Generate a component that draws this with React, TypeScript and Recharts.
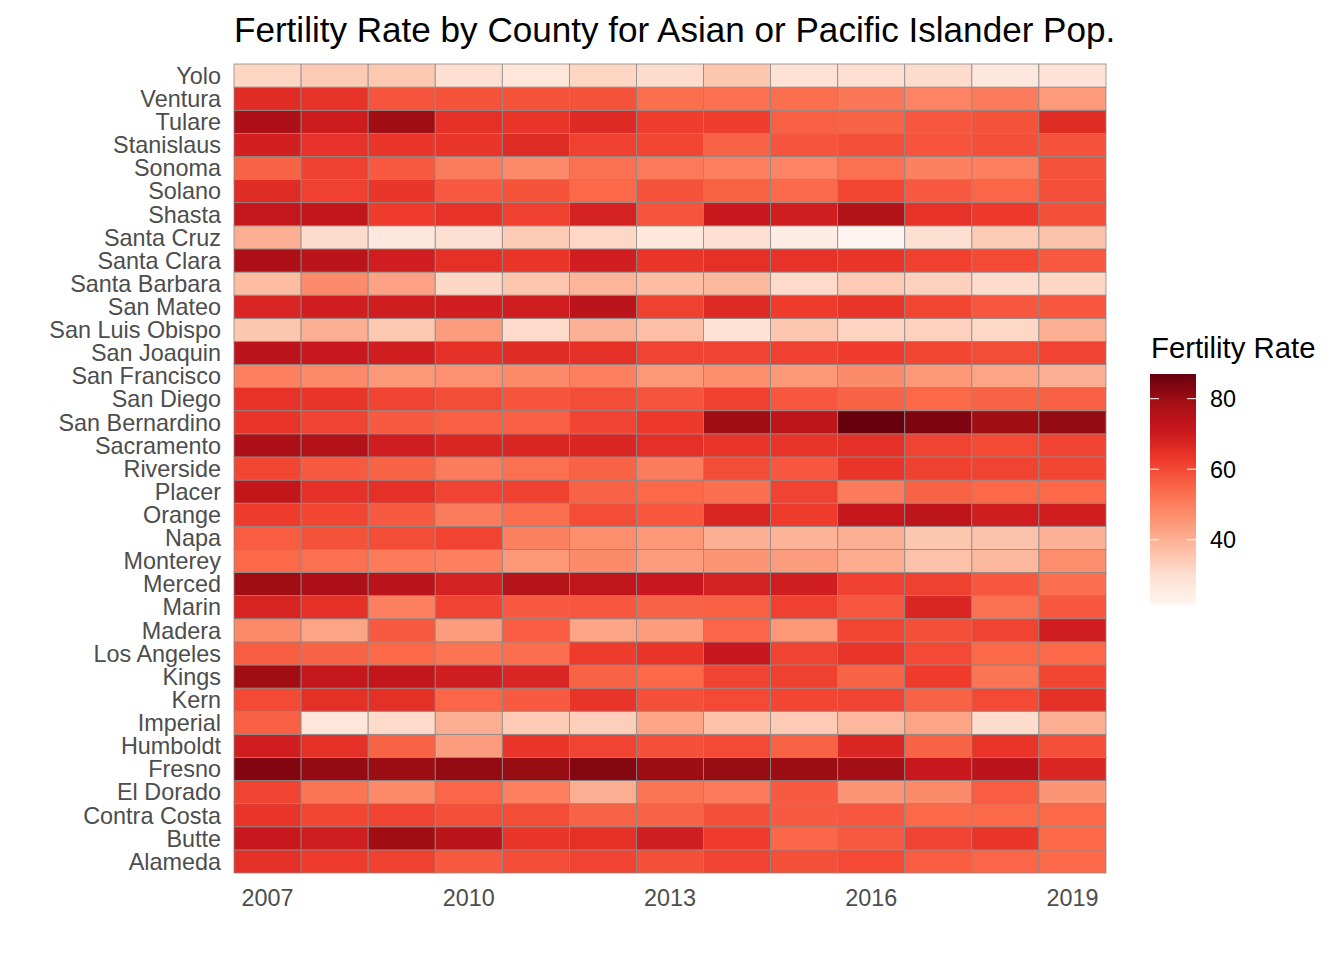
import { ScatterChart, Scatter, XAxis, YAxis } from "recharts";

const years = [2007, 2008, 2009, 2010, 2011, 2012, 2013, 2014, 2015, 2016, 2017, 2018, 2019];
const yearTicks = [2007, 2010, 2013, 2016, 2019];

// bottom to top
const counties = [
  "Alameda", "Butte", "Contra Costa", "El Dorado", "Fresno", "Humboldt", "Imperial",
  "Kern", "Kings", "Los Angeles", "Madera", "Marin", "Merced", "Monterey", "Napa",
  "Orange", "Placer", "Riverside", "Sacramento", "San Bernardino", "San Diego",
  "San Francisco", "San Joaquin", "San Luis Obispo", "San Mateo", "Santa Barbara",
  "Santa Clara", "Santa Cruz", "Shasta", "Solano", "Sonoma", "Stanislaus", "Tulare",
  "Ventura", "Yolo",
];

// one row per county, same order as counties, 2007..2019
const rates: number[][] = [
  [65, 62.5, 61.5, 57, 59.5, 61, 59, 61, 59, 60, 56.5, 55, 54.5],
  [71, 69.5, 79.5, 74, 63.5, 65, 69.5, 62.5, 55, 57, 61, 64, 54.5],
  [64, 60.5, 61, 59, 59.5, 55.5, 55.5, 59, 57, 57.5, 54.5, 54.5, 54.5],
  [61, 52, 48, 55, 50, 40.5, 52, 51, 57, 45.5, 47.5, 56.5, 45.5],
  [83.5, 81, 80, 81, 80.5, 83, 80, 80.5, 80, 79, 71, 74, 67],
  [69.5, 65, 55.5, 44, 63.5, 61, 59, 60, 55.5, 67, 55.5, 64, 59],
  [56, 27.5, 31, 40.5, 34.5, 33.5, 42.5, 36.5, 34.5, 38.5, 42.5, 30.5, 40.5],
  [60, 65, 65, 55, 57, 64, 59, 60, 60.5, 61, 55.5, 60, 65],
  [79.5, 72, 72.5, 69.5, 67.5, 55.5, 54.5, 61, 61.5, 55.5, 62.5, 52, 60.5],
  [56.5, 55.5, 54.5, 52, 53.5, 62.5, 64, 71.5, 61, 64, 60, 54.5, 54.5],
  [48, 42.5, 57, 44, 56.5, 42.5, 44, 55, 45, 60.5, 59, 61, 69.5],
  [68, 65, 50, 61, 57, 57.5, 55.5, 56, 61.5, 57.5, 67, 53, 57.5],
  [79.5, 77, 74, 68.5, 75.5, 73, 71, 68.5, 69.5, 61.5, 61.5, 57.5, 53.5],
  [54.5, 53, 51, 50, 45, 47.5, 44, 45.5, 44, 41, 36.5, 38.5, 47],
  [56.5, 58.5, 59.5, 61, 49.5, 47, 45, 40.5, 39.5, 40.5, 35.5, 36, 40],
  [62.5, 60.5, 57, 50.5, 53.5, 59.5, 57.5, 67, 62.5, 72, 73.5, 69.5, 69.5],
  [72.5, 65, 65, 61, 61.5, 55.5, 54.5, 53.5, 61, 50.5, 55.5, 54.5, 54.5],
  [60.5, 57, 55.5, 50.5, 53, 55.5, 50.5, 59.5, 57.5, 64, 61.5, 61, 60.5],
  [77, 76, 69.5, 67, 67, 67, 65, 64, 64, 65, 61, 60, 61],
  [64, 61, 57, 56, 56, 61, 63, 79.5, 73.5, 87, 84, 79.5, 81],
  [64.5, 64, 61, 59.5, 58, 59.5, 58, 61.5, 57.5, 55.5, 54.5, 55.5, 56],
  [50, 48, 45, 46.5, 47.5, 50, 45, 47, 45, 47.5, 45, 42.5, 40.5],
  [74, 71, 69.5, 65, 66, 65, 61, 61, 61.5, 62.5, 60.5, 59.5, 61],
  [35.5, 40.5, 35, 44, 31, 40, 37, 29, 35.5, 32.5, 33, 31.5, 40.5],
  [67.5, 69.5, 69.5, 69.5, 69.5, 74, 61.5, 66.5, 62.5, 64, 60.5, 57.5, 57.5],
  [37.5, 47.5, 43, 31.5, 35.5, 39, 37.5, 38.5, 31, 34.5, 33, 30.5, 32],
  [77, 74, 69.5, 65, 63.5, 69.5, 64, 65, 64.5, 63.5, 61.5, 60, 57],
  [40.5, 30.5, 27, 29.5, 34.5, 31.5, 27, 29.5, 24.5, 21.5, 29.5, 34.5, 36],
  [72, 72.5, 62.5, 64.5, 61.5, 68.5, 58, 71, 69.5, 76.5, 64.5, 63, 59],
  [66, 61.5, 63.5, 57, 58.5, 54.5, 58.5, 55.5, 54, 60.5, 57, 55, 59],
  [55.5, 61.5, 57, 50.5, 48, 53, 51, 50, 49, 53, 49.5, 50, 58.5],
  [69, 64.5, 63.5, 63.5, 66, 61.5, 60.5, 55.5, 58, 59, 58, 59, 58.5],
  [77, 70, 79.5, 65, 64, 66.5, 62, 62, 56, 55.5, 57.5, 58.5, 66],
  [66, 64.5, 58, 58.5, 58.5, 58.5, 53.5, 53, 53.5, 51.5, 49, 50.5, 44.5],
  [32, 34.5, 35, 29.5, 27.5, 32, 30.5, 35.5, 29, 29.5, 30.5, 27, 28.5],
];

const legendTicks = [40, 60, 80];

const REDS = ["#fff5f0", "#fee0d2", "#fcbba1", "#fc9272", "#fb6a4a", "#ef3b2c", "#cb181d", "#a50f15", "#67000d"];

const W = 1344;
const H = 960;
const PLOT = { left: 234, right: 1106, top: 64, bottom: 873 };
const cellW = (PLOT.right - PLOT.left) / years.length;
const cellH = (PLOT.bottom - PLOT.top) / counties.length;

const all = rates.flat();
const vMin = Math.min(...all);
const vMax = Math.max(...all);

function hex(c: string) {
  return [1, 3, 5].map((i) => parseInt(c.slice(i, i + 2), 16));
}

function fillFor(v: number) {
  const t = Math.max(0, Math.min(1, (v - vMin) / (vMax - vMin))) * (REDS.length - 1);
  const i = Math.min(REDS.length - 2, Math.floor(t));
  const f = t - i;
  const a = hex(REDS[i]);
  const b = hex(REDS[i + 1]);
  const rgb = a.map((x, k) => Math.round(x + (b[k] - x) * f));
  return `rgb(${rgb.join(",")})`;
}

const cells = counties.flatMap((c, ci) =>
  years.map((y, yi) => ({ year: y, row: ci + 1, county: c, value: rates[ci][yi] }))
);

const FONT = '"Liberation Sans", Arial, Helvetica, sans-serif';

function Tile(props: any) {
  const { cx, cy, payload } = props;
  if (cx == null || cy == null) return null;
  return (
    <rect
      x={cx - cellW / 2}
      y={cy - cellH / 2}
      width={cellW}
      height={cellH}
      fill={fillFor(payload.value)}
      stroke="#8a8a8a"
      strokeWidth={0.8}
    />
  );
}

function ColorBar() {
  const top = 374;
  const bottom = 605;
  const x = 1150;
  const w = 46;
  const yOf = (v: number) => top + ((vMax - v) / (vMax - vMin)) * (bottom - top);
  return (
    <svg width={W} height={H} style={{ position: "absolute", left: 0, top: 0, pointerEvents: "none" }}>
      <defs>
        <linearGradient id="reds" x1="0" y1="1" x2="0" y2="0">
          {REDS.map((c, i) => (
            <stop key={c} offset={i / (REDS.length - 1)} stopColor={c} />
          ))}
        </linearGradient>
      </defs>
      <text x={1151} y={358} fontSize={29.3} fill="#000" fontFamily={FONT}>
        Fertility Rate
      </text>
      <rect x={x} y={top} width={w} height={bottom - top} fill="url(#reds)" />
      {legendTicks.map((v) => (
        <g key={v}>
          <line x1={x} x2={x + 9} y1={yOf(v)} y2={yOf(v)} stroke="#fff" strokeWidth={1} />
          <line x1={x + w - 9} x2={x + w} y1={yOf(v)} y2={yOf(v)} stroke="#fff" strokeWidth={1} />
          <text x={1210} y={yOf(v) + 8.4} fontSize={23.4} fill="#000" fontFamily={FONT}>
            {v}
          </text>
        </g>
      ))}
    </svg>
  );
}

export default function App() {
  return (
    <div
      style={{
        position: "absolute",
        left: 0,
        top: 0,
        width: W,
        height: H,
        background: "#fff",
        fontFamily: FONT,
      }}
    >
      <div
        style={{
          position: "absolute",
          left: PLOT.left,
          top: 10,
          fontSize: 35.1,
          color: "#000",
          whiteSpace: "nowrap",
          lineHeight: "40px",
        }}
      >
        Fertility Rate by County for Asian or Pacific Islander Pop.
      </div>
      <div style={{ position: "absolute", left: 0, top: 0 }}>
        <ScatterChart
          width={W}
          height={H}
          margin={{ top: PLOT.top, right: W - PLOT.right, bottom: H - PLOT.bottom - 40, left: 0 }}
        >
          <XAxis
            type="number"
            dataKey="year"
            domain={[years[0] - 0.5, years[years.length - 1] + 0.5]}
            ticks={yearTicks}
            height={40}
            axisLine={false}
            tickLine={false}
            tickSize={0}
            tickMargin={16}
            tick={{ fontSize: 23.4, fill: "#4d4d4d", fontFamily: FONT }}
          />
          <YAxis
            type="number"
            dataKey="row"
            domain={[0.5, counties.length + 0.5]}
            ticks={counties.map((_, i) => i + 1)}
            tickFormatter={(v: number) => counties[v - 1] ?? ""}
            interval={0}
            width={PLOT.left}
            axisLine={false}
            tickLine={false}
            tickSize={0}
            tickMargin={13}
            tick={{ fontSize: 23.4, fill: "#4d4d4d", fontFamily: FONT }}
          />
          <Scatter data={cells} shape={<Tile />} isAnimationActive={false} />
        </ScatterChart>
      </div>
      <ColorBar />
    </div>
  );
}
